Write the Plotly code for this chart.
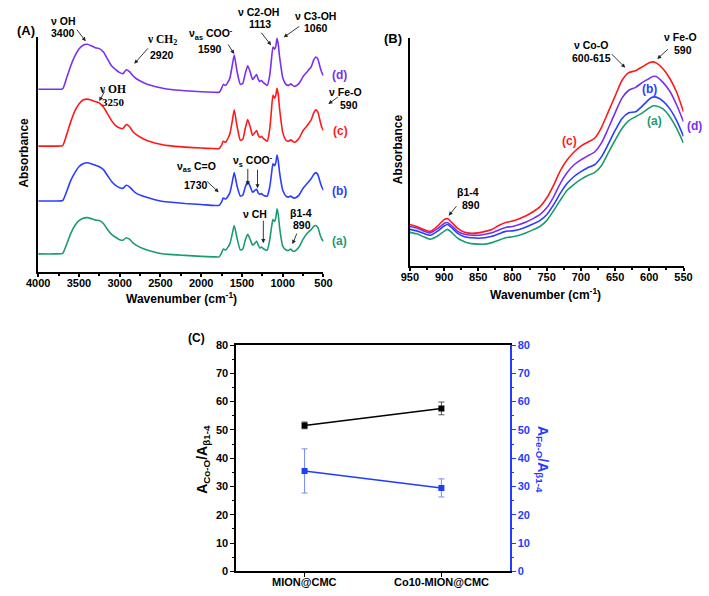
import plotly.graph_objects as go

W, H = 709, 596
SANS = "Liberation Sans, Arial, sans-serif"
SERIF = "Liberation Serif, Times New Roman, serif"


def P(x, y):
    return x / W, 1 - y / H


# ---------------- Panel A : full FTIR spectra (offset, arbitrary units) ----------------
wn_A = [4000, 3800, 3700, 3650, 3600, 3550, 3500, 3450, 3400, 3350, 3300, 3250, 3200, 3150,
        3100, 3050, 3000, 2960, 2920, 2880, 2840, 2800, 2700, 2600, 2500, 2400, 2200, 2000,
        1850, 1780, 1750, 1730, 1700, 1650, 1620, 1595, 1560, 1520, 1490, 1460, 1430, 1400,
        1370, 1340, 1320, 1300, 1280, 1260, 1240, 1210, 1190, 1160, 1140, 1120, 1100, 1085,
        1070, 1055, 1040, 1020, 1000, 960, 930, 900, 880, 850, 800, 750, 700, 650, 620, 595,
        570, 540, 520, 500]

abs_A_d = [186, 186, 186.5, 198, 210, 220, 227, 231, 232, 230.5, 228.5, 227.5, 224, 217,
           210, 206, 203, 202, 206, 204, 200, 197, 192.5, 189.5, 187.5, 186, 184.5, 183.5,
           183, 183, 187, 191, 190, 197, 210, 221, 204, 191, 192, 202, 210, 204,
           196, 199, 201, 196, 194, 195, 193, 191, 190, 200, 215, 229, 227, 230,
           238, 232, 220, 208, 198, 191, 190, 191.5, 190, 189, 192, 199, 204, 209, 216, 219,
           217, 208, 203, 200]

abs_A_c = [128, 128, 128.5, 140, 153, 164, 171, 175, 176, 175, 173.5, 172, 168, 161,
           154, 149, 146.5, 146, 150, 148, 143, 140, 135, 132, 130, 128.5, 127, 126,
           125.5, 125.5, 129, 133, 132, 140, 153, 165, 148, 134, 135, 146, 155, 148,
           139, 142, 144, 139, 137, 138, 136, 134, 133, 145, 163, 180, 177, 180,
           187, 181, 167, 153, 142, 134, 133, 134.5, 133, 132, 136, 144, 149, 155, 162, 165,
           163, 153, 147, 144]

abs_A_b = [72, 72, 72.5, 82, 93, 101, 107, 110, 111, 110, 108.5, 107, 104, 98,
           92, 88, 85.5, 85, 88, 86.5, 83, 80, 76.5, 74, 72, 71, 69.5, 68.5,
           67.5, 67.5, 71, 75, 74, 80, 91, 101, 87, 77, 78, 86, 92, 87,
           81, 83, 84, 80, 79, 79.5, 78, 77, 77, 86, 98, 110, 108, 111,
           119, 113, 102, 91, 83, 77, 76, 77, 75.5, 75, 78, 85, 90, 95, 99, 101,
           99, 91, 86, 83]

abs_A_a = [18, 18, 18.5, 28, 39, 47, 52, 54.5, 55, 54, 52.5, 52, 49, 43,
           38, 35, 32.5, 32, 34.5, 33, 29.5, 27, 23, 20.5, 18.5, 17.5, 16.5, 15.5,
           15, 15, 19, 23, 22, 28, 38, 47, 34, 22, 23, 32, 38, 33,
           27, 29, 31, 27, 24, 25, 23.5, 22, 22, 32, 44, 53, 51, 55,
           64, 58, 46, 34, 26, 22, 21.5, 23, 21, 21, 25, 33, 39, 43, 46, 47,
           45, 37, 33, 31]

# ---------------- Panel B : 950-550 cm-1 zoom ----------------
wn_B = [950, 940, 930, 920, 910, 900, 895, 890, 880, 870, 860, 850, 840, 830, 820, 810,
        800, 790, 780, 770, 760, 750, 740, 730, 720, 710, 700, 690, 680, 670, 660, 650,
        640, 630, 620, 610, 600, 595, 590, 580, 570, 560, 550]

abs_B_c = [42, 40, 37, 35, 40, 47, 48, 45, 38, 34, 33, 33.5, 35, 37, 41, 44,
           45.5, 48, 51, 55, 60, 69, 82, 97, 108, 116, 122, 126, 130, 141, 157, 173,
           189, 197, 199, 203, 207, 208, 207, 201, 191, 177, 157]

abs_B_d = [40, 38.5, 35.5, 33.5, 37.5, 43, 44, 41.5, 35, 32, 31, 31, 32, 33.5, 36.5, 39,
           40, 42, 44.5, 48, 52, 59, 70, 84, 95, 103, 108, 112, 116, 125, 140, 156,
           171, 179, 182, 187, 191, 193, 193, 187, 178, 164, 147]

abs_B_b = [37, 35.5, 33, 31, 35, 40.5, 42, 39.5, 33, 29.5, 28.5, 28, 28.5, 30, 32.5, 35,
           35.5, 37, 39.5, 42.5, 46, 52, 62, 74, 84, 91, 96, 100, 103, 111, 124, 138,
           150, 156, 157, 163, 170, 172, 172, 168, 160, 148, 132]

abs_B_a = [34, 32.5, 29.5, 27, 30, 35, 37, 34.5, 28, 24.5, 22.5, 22, 22, 23.5, 26, 28.5,
           29.5, 31, 33.5, 36.5, 40, 46, 56, 67, 77, 83, 88, 92, 95, 102, 115, 128,
           140, 148, 152, 156, 161, 163, 163, 160, 152, 140, 125]

# ---------------- Panel C : band-area ratios ----------------
categories_C = ["MION@CMC", "Co10-MION@CMC"]
ratio_CoO = [51.6, 57.6]
ratio_CoO_err = [1.2, 2.25]
ratio_FeO = [35.5, 29.5]
ratio_FeO_err = [7.8, 3.2]

COL = {"a": "#1c9b6f", "b": "#2b3dff", "c": "#ff1a1a", "d": "#7b2ff2"}
BLUE = "#1f3cff"

fig = go.Figure()

for key, vals in [("a", abs_A_a), ("b", abs_A_b), ("c", abs_A_c), ("d", abs_A_d)]:
    fig.add_trace(go.Scatter(x=wn_A, y=vals, xaxis="x", yaxis="y", mode="lines",
                             line=dict(color=COL[key], width=1.6, shape="spline", smoothing=0.5),
                             showlegend=False, hoverinfo="skip"))

for key, vals in [("a", abs_B_a), ("b", abs_B_b), ("d", abs_B_d), ("c", abs_B_c)]:
    fig.add_trace(go.Scatter(x=wn_B, y=vals, xaxis="x2", yaxis="y2", mode="lines",
                             line=dict(color=COL[key], width=1.6, shape="spline", smoothing=0.6),
                             showlegend=False, hoverinfo="skip"))

fig.add_trace(go.Scatter(x=categories_C, y=ratio_CoO, xaxis="x3", yaxis="y3",
                         mode="lines+markers",
                         line=dict(color="black", width=1.5),
                         marker=dict(symbol="square", size=6, color="black"),
                         error_y=dict(type="data", array=ratio_CoO_err, color="#555555",
                                      thickness=1, width=3),
                         showlegend=False))
fig.add_trace(go.Scatter(x=categories_C, y=ratio_FeO, xaxis="x3", yaxis="y4",
                         mode="lines+markers",
                         line=dict(color=BLUE, width=1.5),
                         marker=dict(symbol="square", size=6, color=BLUE),
                         error_y=dict(type="data", array=ratio_FeO_err, color="#7a88ff",
                                      thickness=1, width=3),
                         showlegend=False))

tickfont = dict(family=SANS, size=11, color="black", weight="bold")
common_x = dict(showgrid=False, zeroline=False, showline=True, linecolor="black",
                linewidth=2, ticks="outside", ticklen=3, tickwidth=1.5, tickcolor="black",
                tickfont=tickfont, ticklabelstandoff=-3)

fig.update_layout(
    width=W, height=H, margin=dict(l=0, r=0, t=0, b=0),
    paper_bgcolor="white", plot_bgcolor="white",
    xaxis=dict(domain=[27 / W, 321 / W], anchor="y", range=[4000, 500],
               tick0=500, dtick=500,
               minor=dict(ticks="outside", ticklen=2, dtick=250, tickcolor="black"),
               **common_x),
    yaxis=dict(domain=[1 - 271 / H, 1 - 32 / H], anchor="x", range=[0, 239],
               showgrid=False, zeroline=False, showline=True, linecolor="black",
               linewidth=2, showticklabels=False, ticks=""),
    xaxis2=dict(domain=[410 / W, 692 / W], anchor="y2", range=[950, 550],
                tick0=550, dtick=50,
                minor=dict(ticks="outside", ticklen=2, dtick=25, tickcolor="black"),
                **common_x),
    yaxis2=dict(domain=[1 - 265 / H, 1 - 33 / H], anchor="x2", range=[0, 232],
                showgrid=False, zeroline=False, showline=True, linecolor="black",
                linewidth=2, showticklabels=False, ticks=""),
    xaxis3=dict(domain=[231 / W, 513 / W], anchor="y3", type="category",
                range=[-0.5, 1.5], mirror=True, showgrid=False, zeroline=False,
                showline=True, linecolor="black", linewidth=1.5, ticks="outside",
                ticklen=4, tickwidth=1.2, tickcolor="black", showticklabels=False),
    yaxis3=dict(domain=[1 - 577 / H, 1 - 346 / H], anchor="x3", range=[0, 80],
                dtick=10, showgrid=False, zeroline=False, showline=True,
                linecolor="black", linewidth=1.5, ticks="outside", ticklen=4,
                tickwidth=1.2, tickcolor="black", tickfont=tickfont,
                tickprefix="<b>", ticksuffix="</b>",
                minor=dict(ticks="outside", ticklen=2, dtick=5, tickcolor="black")),
    yaxis4=dict(overlaying="y3", side="right", anchor="x3", range=[0, 80], dtick=10,
                showgrid=False, zeroline=False, showline=True, linecolor=BLUE,
                linewidth=1.5, ticks="outside", ticklen=4, tickwidth=1.2,
                tickcolor=BLUE, tickfont=dict(family=SANS, size=11, color=BLUE, weight="bold"),
                tickprefix="<b>", ticksuffix="</b>",
                minor=dict(ticks="outside", ticklen=2, dtick=5, tickcolor=BLUE)),
)


def txt(s, x, y, size=10.5, color="black", family=SANS, angle=0):
    xx, yy = P(x, y)
    return dict(text=s, x=xx, y=yy, xref="paper", yref="paper", showarrow=False,
                xanchor="center", yanchor="middle", textangle=angle,
                font=dict(size=size, color=color, family=family, weight="bold"))


def arr(hx, hy, tx, ty):
    xx, yy = P(hx, hy)
    return dict(text="", x=xx, y=yy, xref="paper", yref="paper", ax=tx - hx, ay=ty - hy,
                showarrow=True, arrowhead=2, arrowsize=0.9, arrowwidth=0.9,
                arrowcolor="#222222")


ann = [
    # Panel A
    txt("(A)", 14, 25, size=13),
    txt("ν OH", 53, 15), txt("3400", 53, 28), arr(76, 36, 66, 23),
    txt("ν CH<sub>2</sub>", 155, 35, family=SERIF, size=11.5), txt("2920", 155, 50),
    arr(126, 59, 141, 42),
    txt("ν<sub>as</sub> COO<sup>-</sup>", 205, 29), txt("1590", 204, 44),
    arr(229, 49, 222, 38),
    txt("ν C2-OH", 254, 6), txt("1113", 256, 18), arr(267, 40, 256, 26),
    txt("ν C3-OH", 313, 10), txt("1060", 313, 22), arr(280, 32, 297, 20),
    txt("ν OH", 104, 85, family=SERIF, size=11.5), txt("3250", 105, 98, family=SERIF, size=11),
    arr(90, 97, 96, 86),
    txt("ν Fe-O", 344, 88), txt("590", 347, 101), arr(326, 100, 337, 92),
    txt("ν<sub>as</sub> C=O", 190, 164), txt("1730", 190, 183), arr(213, 190, 200, 178),
    txt("ν<sub>s</sub> COO<sup>-</sup>", 248, 158),
    arr(243, 183, 243, 165), arr(253, 186, 253, 166),
    txt("ν CH", 250, 212), arr(259, 242, 259, 218),
    txt("β1-4", 298, 211), txt("890", 299, 223), arr(289, 243, 294, 231),
    txt("(d)", 338, 70, size=12, color=COL["d"]),
    txt("(c)", 339, 128, size=12, color=COL["c"]),
    txt("(b)", 338, 189, size=12, color=COL["b"]),
    txt("(a)", 338, 240, size=12, color=COL["a"]),
    txt("Wavenumber (cm<sup>-1</sup>)", 175, 298, size=12),
    txt("Absorbance", 12, 150, size=12, angle=-90),
    # Panel B
    txt("(B)", 393, 33, size=13),
    txt("ν Co-O", 597, 40), txt("600-615", 597, 53), arr(632, 63, 617, 48),
    txt("ν Fe-O", 689, 32), txt("590", 691, 45), arr(665, 54, 677, 43),
    txt("β1-4", 470, 190), txt("890", 473, 203), arr(450, 214, 459, 203),
    txt("(c)", 575, 138, size=12, color=COL["c"]),
    txt("(b)", 657, 85, size=12, color=COL["b"]),
    txt("(a)", 662, 117, size=12, color=COL["a"]),
    txt("(d)", 703, 122, size=12, color=COL["d"]),
    txt("Wavenumber (cm<sup>-1</sup>)", 550, 294, size=12),
    txt("Absorbance", 398, 146, size=12, angle=-90),
    # Panel C
    txt("(C)", 190, 339, size=12),
    txt("A<sub>Co-O</sub>/A<sub>β1-4</sub>", 197, 463, size=14, angle=-90),
    txt("A<sub>Fe-O</sub>/A<sub>β1-4</sub>", 547, 463, size=14, color=BLUE, angle=90),
]
# category tick labels of panel C, placed on the category axis
for cat in categories_C:
    ann.append(dict(text=cat, x=cat, y=1 - 588 / H, xref="x3", yref="paper",
                    showarrow=False, xanchor="center", yanchor="middle",
                    font=dict(size=11, color="black", family=SANS, weight="bold")))
fig.update_layout(annotations=ann)

fig.write_html("out.html", config={"displayModeBar": False},
               post_script="document.body.style.margin='0px';")
